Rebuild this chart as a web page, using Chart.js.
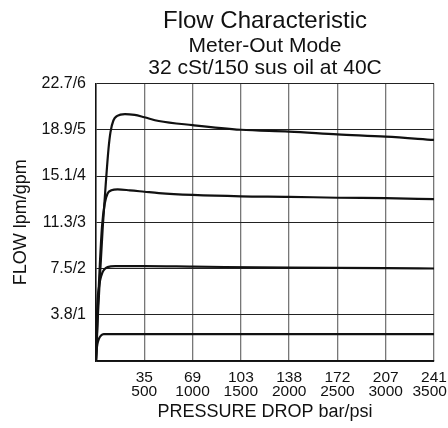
<!DOCTYPE html>
<html>
<head>
<meta charset="utf-8">
<title>Flow Characteristic</title>
<script src="https://cdn.jsdelivr.net/npm/chart.js@4.4.1/dist/chart.umd.min.js"></script>
<style>
  html, body { margin: 0; padding: 0; background: #fff; }
  #wrap { width: 448px; height: 428px; }
</style>
</head>
<body>
<div id="wrap"><canvas id="flow-chart" width="448" height="428"></canvas></div>
<script>
(function() {
"use strict";

// Axis tick labels (bar/psi and lpm/gpm pairs)
var X_BAR = ["", "35", "69", "103", "138", "172", "207", "241"];
var X_PSI = ["", "500", "1000", "1500", "2000", "2500", "3000", "3500"];
var Y_LABELS = ["", "3.8/1", "7.5/2", "11.3/3", "15.1/4", "18.9/5", "22.7/6"];

// Curves: pressure drop (psi) vs flow (gpm)
var PSI_1 = [0, 20, 40, 70, 100, 130, 150, 180, 220, 300, 400, 500, 650, 1000, 1500, 2000, 2500, 3000, 3500];
var GPM_1 = [0, 1.0, 1.8, 2.9, 3.8, 4.6, 4.95, 5.2, 5.3, 5.34, 5.32, 5.27, 5.19, 5.10, 5.00, 4.96, 4.90, 4.85, 4.78];

var PSI_2 = [0, 20, 40, 62, 90, 120, 160, 224, 350, 500, 650, 1000, 1500, 2000, 2500, 3000, 3500];
var GPM_2 = [0, 1.2, 2.1, 2.9, 3.4, 3.62, 3.69, 3.71, 3.69, 3.66, 3.63, 3.59, 3.56, 3.55, 3.53, 3.52, 3.50];

var PSI_3 = [0, 8, 17, 30, 41, 66, 90, 120, 200, 500, 1000, 2000, 3000, 3500];
var GPM_3 = [0, 0.8, 1.34, 1.58, 1.73, 1.91, 1.99, 2.03, 2.05, 2.05, 2.04, 2.02, 2.01, 2.00];

var PSI_4 = [0, 7, 15, 28, 52, 80, 200, 3500];
var GPM_4 = [0, 0.25, 0.37, 0.47, 0.55, 0.58, 0.58, 0.58];

var FONT = "'Liberation Sans', Arial, Helvetica, sans-serif";

function _points(xs, ys) {
  return xs.map(function(x, i) { return { x: x, y: ys[i] }; });
}

function _curve(xs, ys) {
  return {
    data: _points(xs, ys),
    borderColor: "#111",
    borderWidth: 2.2,
    pointRadius: 0,
    fill: false,
    cubicInterpolationMode: "monotone",
  };
}

var canvas = document.getElementById("flow-chart");

new Chart(canvas.getContext("2d"), {
  type: "line",
  data: {
    datasets: [
      _curve(PSI_1, GPM_1),
      _curve(PSI_2, GPM_2),
      _curve(PSI_3, GPM_3),
      _curve(PSI_4, GPM_4),
    ],
  },
  options: {
    responsive: false,
    animation: false,
    layout: { padding: { left: 4, right: 14, top: 0, bottom: 5 } },
    plugins: {
      legend: { display: false },
      tooltip: { enabled: false },
      // fullSize off so the titles centre over the plot, not the canvas
      title: {
        display: true,
        fullSize: false,
        text: "Flow Characteristic",
        color: "#111",
        font: { family: FONT, size: 24, weight: "normal", lineHeight: 1.1 },
        padding: { top: 8, bottom: 0 },
      },
      subtitle: {
        display: true,
        fullSize: false,
        text: ["Meter-Out Mode", "32 cSt/150 sus oil at 40C"],
        color: "#111",
        font: { family: FONT, size: 21, weight: "normal", lineHeight: 1.05 },
        padding: { top: 1, bottom: 4 },
      },
    },
    scales: {
      x: {
        type: "linear",
        min: 0,
        max: 3500,
        grid: { color: "#777", lineWidth: 1.3, drawTicks: false },
        border: { color: "#111", width: 1.5 },
        ticks: {
          stepSize: 500,
          padding: 9,
          maxRotation: 0,
          autoSkip: false,
          color: "#111",
          font: { family: FONT, size: 15.5, lineHeight: 0.95 },
          callback: function(value, index, ticks) {
            if (!X_BAR[index]) return "";
            // last label sits a little left of its line so it stays on the canvas
            var pad = index === ticks.length - 1 ? "  " : "";
            return [X_BAR[index], X_PSI[index] + pad];
          },
        },
        title: {
          display: true,
          text: "PRESSURE DROP bar/psi",
          color: "#111",
          font: { family: FONT, size: 18 },
          padding: { top: 0, bottom: 0 },
        },
        afterFit: function(scale) {
          scale.height = 62;
          scale.paddingLeft = 0;
          scale.paddingRight = 0;
        },
      },
      y: {
        min: 0,
        max: 6,
        grid: { color: "#222", lineWidth: 1, drawTicks: false },
        border: { color: "#111", width: 1.5 },
        ticks: {
          stepSize: 1,
          padding: 10,
          color: "#111",
          font: { family: FONT, size: 16 },
          callback: function(value, index) { return Y_LABELS[index] || ""; },
        },
        title: {
          display: true,
          text: "FLOW lpm/gpm",
          color: "#111",
          font: { family: FONT, size: 18 },
          padding: { top: 6, bottom: 0 },
        },
        afterFit: function(scale) { scale.width = 92; },
      },
    },
  },
});

})();
</script>
</body>
</html>
